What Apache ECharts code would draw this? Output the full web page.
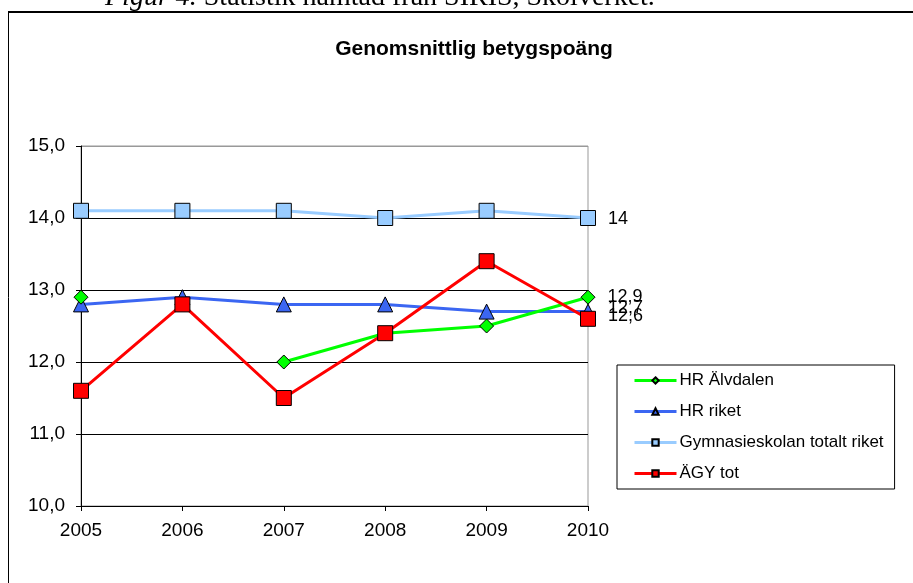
<!DOCTYPE html>
<html>
<head>
<meta charset="utf-8">
<script src="https://cdn.jsdelivr.net/npm/echarts@6/dist/echarts.min.js"></script>
<style>
  html, body { margin: 0; padding: 0; background: #fff; }
  #container { width: 913px; height: 583px; }
</style>
</head>
<body>
<div id="container"></div>
<script>
var years = ['2005', '2006', '2007', '2008', '2009', '2010'];
var hrAlvdalen = [12.9, null, 12.0, 12.4, 12.5, 12.9];
var hrRiket = [12.8, 12.9, 12.8, 12.8, 12.7, 12.7];
var gymnRiket = [14.1, 14.1, 14.1, 14.0, 14.1, 14.0];
var agyTot = [11.6, 12.8, 11.5, 12.4, 13.4, 12.6];

var font = 'Liberation Sans, Arial, sans-serif';

function fmt(v) {
    return (Math.round(v * 10) % 10 === 0) ? String(Math.round(v)) : v.toFixed(1).replace('.', ',');
}

// only the last point gets a value label, like in the original
function endLabel(offsetY) {
    return {
        show: true,
        position: 'right',
        distance: 12,
        offset: [0, offsetY],
        color: '#000',
        fontFamily: font,
        fontSize: 18,
        formatter: function (p) {
            return p.dataIndex === years.length - 1 ? fmt(p.value) : '';
        }
    };
}

function printChart() {
    var dom = document.getElementById('container');
    var myChart = echarts.init(dom);
    var option = {
        animation: false,
        backgroundColor: '#fff',
        title: {
            text: 'Genomsnittlig betygspoäng',
            left: 469,
            top: 34,
            textAlign: 'center',
            textStyle: { fontFamily: font, fontSize: 21, fontWeight: 'bold', color: '#000' }
        },
        graphic: [
            { type: 'line', shape: { x1: 8, y1: 12, x2: 913, y2: 12 }, style: { stroke: '#000', lineWidth: 2 } },
            { type: 'line', shape: { x1: 8.5, y1: 12, x2: 8.5, y2: 583 }, style: { stroke: '#000', lineWidth: 1 } },
            {
                type: 'text', left: 105, top: -16,
                style: {
                    text: '{i|Figur 4.} Statistik hämtad från SIRIS, Skolverket.',
                    font: '28px "Liberation Serif", "Times New Roman", serif',
                    fill: '#000',
                    rich: {
                        i: { fontStyle: 'italic', fontSize: 28, fontFamily: 'Liberation Serif', fill: '#000' }
                    }
                }
            }
        ],
        legend: {
            orient: 'vertical',
            left: 617,
            top: 365,
            padding: [7, 11, 7, 16],
            borderColor: '#000',
            borderWidth: 1,
            itemWidth: 42,
            itemHeight: 8,
            itemGap: 14,
            lineStyle: { width: 3 },
            textStyle: { fontFamily: font, fontSize: 17, color: '#000', padding: [0, 0, 0, -2] },
            data: ['HR Älvdalen', 'HR riket', 'Gymnasieskolan totalt riket', 'ÄGY tot']
        },
        grid: {
            left: 81,
            right: 325,
            top: 146,
            bottom: 77,
            show: true,
            borderColor: '#999',
            borderWidth: 1
        },
        xAxis: {
            type: 'category',
            boundaryGap: false,
            data: years,
            axisLine: { lineStyle: { color: '#000', width: 1 } },
            axisTick: { show: true, length: 5, lineStyle: { color: '#000' } },
            axisLabel: { color: '#000', fontFamily: font, fontSize: 19, margin: 15 },
            splitLine: { show: false }
        },
        yAxis: {
            type: 'value',
            min: 10,
            max: 15,
            interval: 1,
            axisLine: { show: true, lineStyle: { color: '#000', width: 1 } },
            axisTick: { show: true, length: 5, lineStyle: { color: '#000' } },
            axisLabel: {
                color: '#000', fontFamily: font, fontSize: 19, margin: 16,
                formatter: function (v) { return v.toFixed(1).replace('.', ','); }
            },
            splitLine: { show: true, lineStyle: { color: ['#000', '#000', '#000', '#000', '#000', '#999'], width: 1 } }
        },
        series: [
            {
                name: 'HR Älvdalen',
                type: 'line',
                data: hrAlvdalen,
                color: '#00ff00',
                symbol: 'diamond',
                symbolSize: 14,
                connectNulls: false,
                lineStyle: { color: '#00ff00', width: 3 },
                itemStyle: { color: '#00ff00', borderColor: '#000', borderWidth: 1 },
                label: endLabel(0),
                z: 2
            },
            {
                name: 'HR riket',
                type: 'line',
                data: hrRiket,
                color: '#3b66f2',
                symbol: 'triangle',
                symbolSize: 15,
                lineStyle: { color: '#3b66f2', width: 3 },
                itemStyle: { color: '#3b66f2', borderColor: '#000', borderWidth: 1 },
                label: endLabel(-4),
                z: 1
            },
            {
                name: 'Gymnasieskolan totalt riket',
                type: 'line',
                data: gymnRiket,
                color: '#99ccff',
                symbol: 'rect',
                symbolSize: 15,
                lineStyle: { color: '#99ccff', width: 3 },
                itemStyle: { color: '#99ccff', borderColor: '#000', borderWidth: 1 },
                label: endLabel(1),
                z: 3
            },
            {
                name: 'ÄGY tot',
                type: 'line',
                data: agyTot,
                color: '#ff0000',
                symbol: 'rect',
                symbolSize: 15,
                lineStyle: { color: '#ff0000', width: 3 },
                itemStyle: { color: '#ff0000', borderColor: '#000', borderWidth: 1 },
                label: endLabel(-3),
                z: 4
            }
        ]
    };
    myChart.setOption(option, true);
}

printChart();
</script>
</body>
</html>
